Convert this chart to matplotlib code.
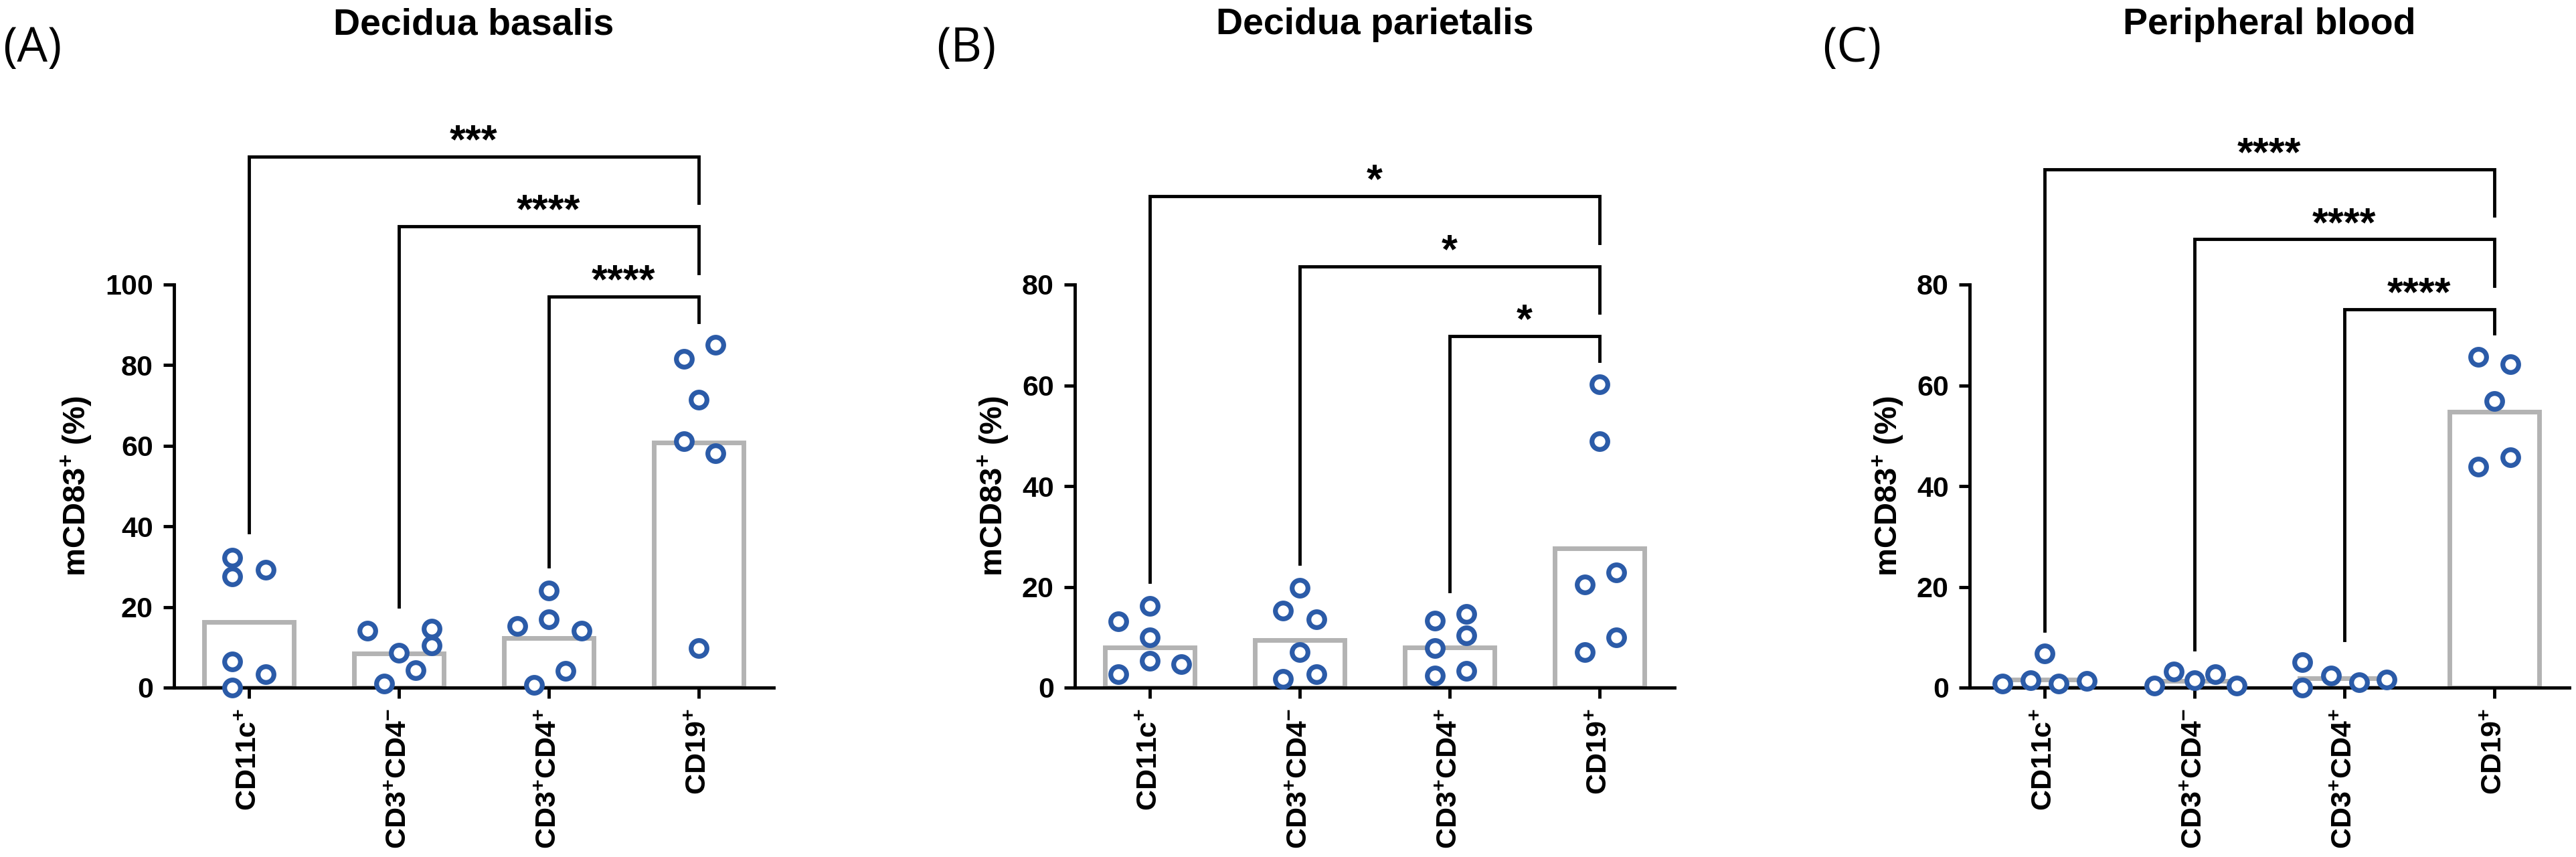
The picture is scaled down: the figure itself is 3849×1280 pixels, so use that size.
import numpy as np
import matplotlib
matplotlib.use('Agg')
import matplotlib.pyplot as plt

plt.rcParams['font.family'] = ['Liberation Sans', 'DejaVu Sans']
plt.rcParams['font.weight'] = 'bold'
plt.rcParams['mathtext.fontset'] = 'custom'
plt.rcParams['mathtext.rm'] = 'Liberation Sans:bold'
plt.rcParams['mathtext.it'] = 'Liberation Sans:bold'
plt.rcParams['mathtext.bf'] = 'Liberation Sans:bold'
plt.rcParams['mathtext.default'] = 'rm'

groups = ['CD11c$^{+}$', 'CD3$^{+}$CD4$^{-}$', 'CD3$^{+}$CD4$^{+}$', 'CD19$^{+}$']
titles = ['Decidua basalis', 'Decidua parietalis', 'Peripheral blood']
tags = ['(A)', '(B)', '(C)']
ylabel = 'mCD83$^{+}$ (%)'

# (A) decidua basalis
basalis_bars = [16.2, 8.5, 12.3, 60.8]
basalis_pts = [[32.3, 27.5, 29.2, 6.4, 3.4, 0.0],
               [14.2, 8.7, 14.6, 10.5, 4.4, 1.0],
               [15.3, 24.1, 16.9, 14.2, 4.1, 0.7],
               [81.6, 85.0, 71.5, 61.2, 58.2, 9.8]]
basalis_jit = [[-0.11, -0.11, 0.11, -0.11, 0.11, -0.11],
               [-0.21, 0.0, 0.22, 0.22, 0.11, -0.10],
               [-0.21, 0.0, 0.0, 0.22, 0.11, -0.10],
               [-0.10, 0.11, 0.0, -0.10, 0.11, 0.0]]
# bracket: left group, right group, top, left leg end, right leg end, label
basalis_sig = [(0, 3, 131.7, 38.5, 120.2, '***'),
               (1, 3, 114.5, 20.1, 102.9, '****'),
               (2, 3, 97.0, 30.0, 90.7, '****')]

# (B) decidua parietalis
parietalis_bars = [8.0, 9.5, 8.0, 27.7]
parietalis_pts = [[13.1, 16.2, 10.0, 5.3, 4.7, 2.7],
                  [15.3, 19.8, 13.5, 7.0, 1.7, 2.6],
                  [13.3, 14.6, 10.4, 7.8, 2.4, 3.3],
                  [60.2, 48.9, 20.4, 22.9, 7.1, 10.0]]
parietalis_jit = [[-0.21, 0.0, 0.0, 0.0, 0.21, -0.21],
                  [-0.11, 0.0, 0.11, 0.0, -0.11, 0.11],
                  [-0.10, 0.11, 0.11, -0.10, -0.10, 0.11],
                  [0.0, 0.0, -0.10, 0.11, -0.10, 0.11]]
parietalis_sig = [(0, 3, 97.6, 21.0, 88.2, '*'),
                  (1, 3, 83.6, 24.6, 74.4, '*'),
                  (2, 3, 69.8, 19.1, 64.9, '*')]

# (C) peripheral blood
blood_bars = [1.6, 1.3, 1.9, 54.7]
blood_pts = [[0.8, 1.5, 6.8, 0.8, 1.3],
             [0.4, 3.2, 1.5, 2.6, 0.4],
             [5.1, 0.0, 2.4, 1.1, 1.6],
             [65.6, 64.2, 56.9, 43.8, 45.7]]
blood_jit = [[-0.28, -0.095, 0.0, 0.095, 0.28],
             [-0.27, -0.14, 0.0, 0.14, 0.28],
             [-0.28, -0.28, -0.09, 0.096, 0.28],
             [-0.107, 0.107, 0.0, -0.107, 0.107]]
blood_sig = [(0, 3, 102.9, 11.3, 93.7, '****'),
             (1, 3, 89.0, 7.6, 79.8, '****'),
             (2, 3, 75.1, 9.5, 70.3, '****')]

panels = [(basalis_bars, basalis_pts, basalis_jit, basalis_sig, 100),
          (parietalis_bars, parietalis_pts, parietalis_jit, parietalis_sig, 80),
          (blood_bars, blood_pts, blood_jit, blood_sig, 80)]

W, H = 3849, 1280
fig = plt.figure(figsize=(W / 100, H / 100), dpi=100)

ax_left = [260, 1606, 2943]
tag_x = [4, 1399, 2723]
ax_w = 896

for k, (bars, pts, jit, sig, ymax) in enumerate(panels):
    ax = fig.add_axes([ax_left[k] / W, 1 - 1027 / H, ax_w / W, 602 / H])
    x = np.arange(len(groups))
    ax.bar(x, bars, width=0.6, facecolor='white', edgecolor='#b3b3b3',
           linewidth=5, zorder=1)
    for i in range(len(groups)):
        ax.plot(i + np.array(jit[i]), pts[i], 'o', ms=17, mfc='white',
                mec='#2b5ba8', mew=5.2, clip_on=False, zorder=3)
    for a, b, yh, yl, yr, lab in sig:
        ax.plot([a, a, b, b], [yl, yh, yh, yr], color='black', lw=3.5,
                clip_on=False, solid_joinstyle='miter', zorder=2)
        ax.annotate(lab, xy=((a + b) / 2, yh), xytext=(0, 4),
                    textcoords='offset points', ha='center', va='baseline',
                    fontsize=44, fontweight='bold', annotation_clip=False)
    ax.set_xlim(-0.5, 3.5)
    ax.set_ylim(0, ymax)
    ax.set_yticks(np.arange(0, ymax + 1, 20))
    ax.set_xticks(x)
    ax.set_xticklabels(groups, rotation=90, fontsize=31, fontweight='bold')
    ax.tick_params(axis='y', labelsize=31, length=11.5, width=3.5, pad=11)
    ax.tick_params(axis='x', length=11.5, width=3.5, pad=11)
    for s in ['top', 'right']:
        ax.spines[s].set_visible(False)
    for s in ['left', 'bottom']:
        ax.spines[s].set_linewidth(3.5)
    ax.set_ylabel(ylabel, fontsize=34, fontweight='bold', labelpad=12)
    cx = (ax_left[k] + ax_w / 2) / W
    fig.text(cx, 1 - 51 / H, titles[k], ha='center', va='baseline',
             fontsize=40, fontweight='bold')
    fig.text(tag_x[k] / W, 1 - 92 / H, tags[k], ha='left', va='baseline',
             fontsize=52, fontweight='normal', family=['Open Sans', 'DejaVu Sans'])

fig.savefig('out.png', dpi=100, facecolor='white')
